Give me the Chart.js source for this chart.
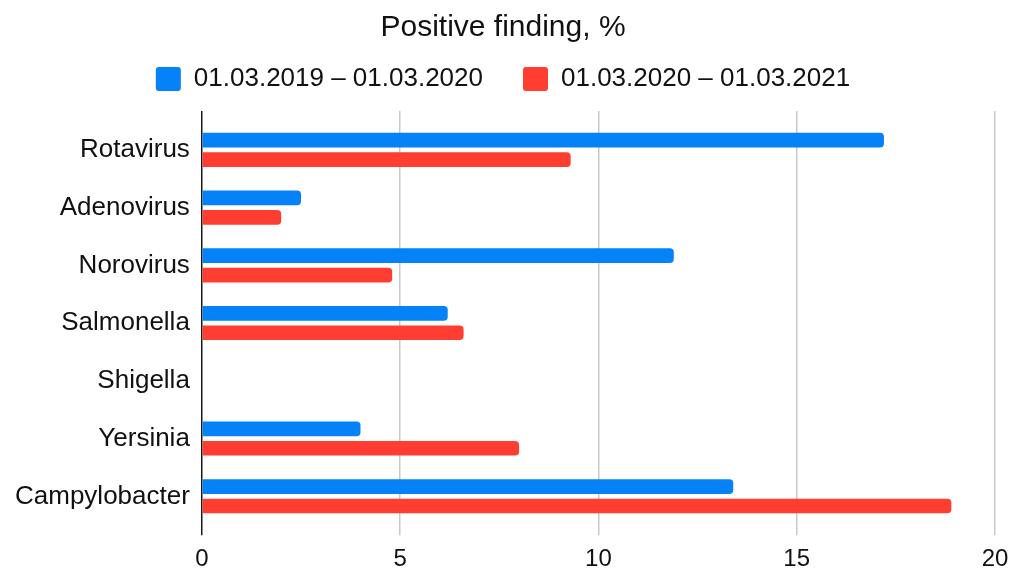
<!DOCTYPE html>
<html>
<head>
<meta charset="utf-8">
<script src="https://cdn.jsdelivr.net/npm/chart.js@4.4.0/dist/chart.umd.min.js"></script>
<style>
  html, body { margin: 0; padding: 0; background: #fff; }
  #wrap { width: 1022px; height: 572px; }
</style>
</head>
<body>
<div id="wrap"><canvas id="myChart"></canvas></div>
<script>
// data
var categories = ['Rotavirus', 'Adenovirus', 'Norovirus', 'Salmonella', 'Shigella', 'Yersinia', 'Campylobacter'];
var series1Label = '01.03.2019 \u2013 01.03.2020';
var series2Label = '01.03.2020 \u2013 01.03.2021';
var series1 = [17.2, 2.5, 11.9, 6.2, 0, 4.0, 13.4];
var series2 = [9.3, 2.0, 4.8, 6.6, 0, 8.0, 18.9];
var xTicks = [0, 5, 10, 15, 20];

var FONT = "'Liberation Sans', Arial, sans-serif";

var chartdata = {
	labels: categories,
	datasets: [{
		label: series1Label,
		data: series1,
		backgroundColor: '#0582F8',
		borderRadius: 4,
		categoryPercentage: 0.67,
		barPercentage: 0.76
	}, {
		label: series2Label,
		data: series2,
		backgroundColor: '#FF3D30',
		borderRadius: 4,
		categoryPercentage: 0.67,
		barPercentage: 0.76
	}]
};

var gridColor = function(c){
	return (c.tick && c.tick.value === 0) ? '#1a1a1a' : '#c8c8c8';
};
var setTicks = function(axis){
	axis.ticks = xTicks.map(function(v){ return { value: v }; });
};

var ctx = document.getElementById('myChart');
var barGraph = new Chart(ctx, {
	type: 'bar',
	data: chartdata,
	options: {
		indexAxis: 'y',
		responsive: true,
		maintainAspectRatio: false,
		animation: false,
		layout: { padding: { left: 11, right: 27, top: 0, bottom: 0 } },
		plugins: {
			title: {
				display: true,
				text: 'Positive finding, %',
				color: '#111',
				font: { family: FONT, size: 30, weight: 'normal' },
				padding: { top: 10, bottom: -20 }
			},
			legend: {
				position: 'top',
				labels: {
					color: '#111',
					font: { family: FONT, size: 26 },
					boxWidth: 25,
					boxHeight: 24,
					useBorderRadius: true,
					borderRadius: 3,
					padding: 40
				}
			},
			tooltip: { enabled: false }
		},
		scales: {
			x: {
				position: 'bottom',
				min: 0,
				max: 20,
				afterBuildTicks: setTicks,
				afterFit: function(axis){ axis.height -= 12; },
				grid: { color: gridColor, lineWidth: 1.5, tickLength: 10 },
				border: { display: false },
				ticks: {
					color: '#111',
					font: { family: FONT, size: 24 },
					padding: 10
				}
			},
			xTop: {
				type: 'linear',
				axis: 'x',
				position: 'top',
				min: 0,
				max: 20,
				afterBuildTicks: setTicks,
				afterFit: function(axis){ axis.height = 19; },
				grid: { color: gridColor, lineWidth: 1.5, tickLength: 10, drawOnChartArea: false },
				border: { display: false },
				ticks: { display: false }
			},
			y: {
				afterFit: function(axis){ axis.width -= 8; },
				grid: { display: false, drawTicks: false },
				border: { display: false },
				ticks: {
					color: '#111',
					font: { family: FONT, size: 26 },
					padding: 12
				}
			}
		}
	}
});
</script>
</body>
</html>
